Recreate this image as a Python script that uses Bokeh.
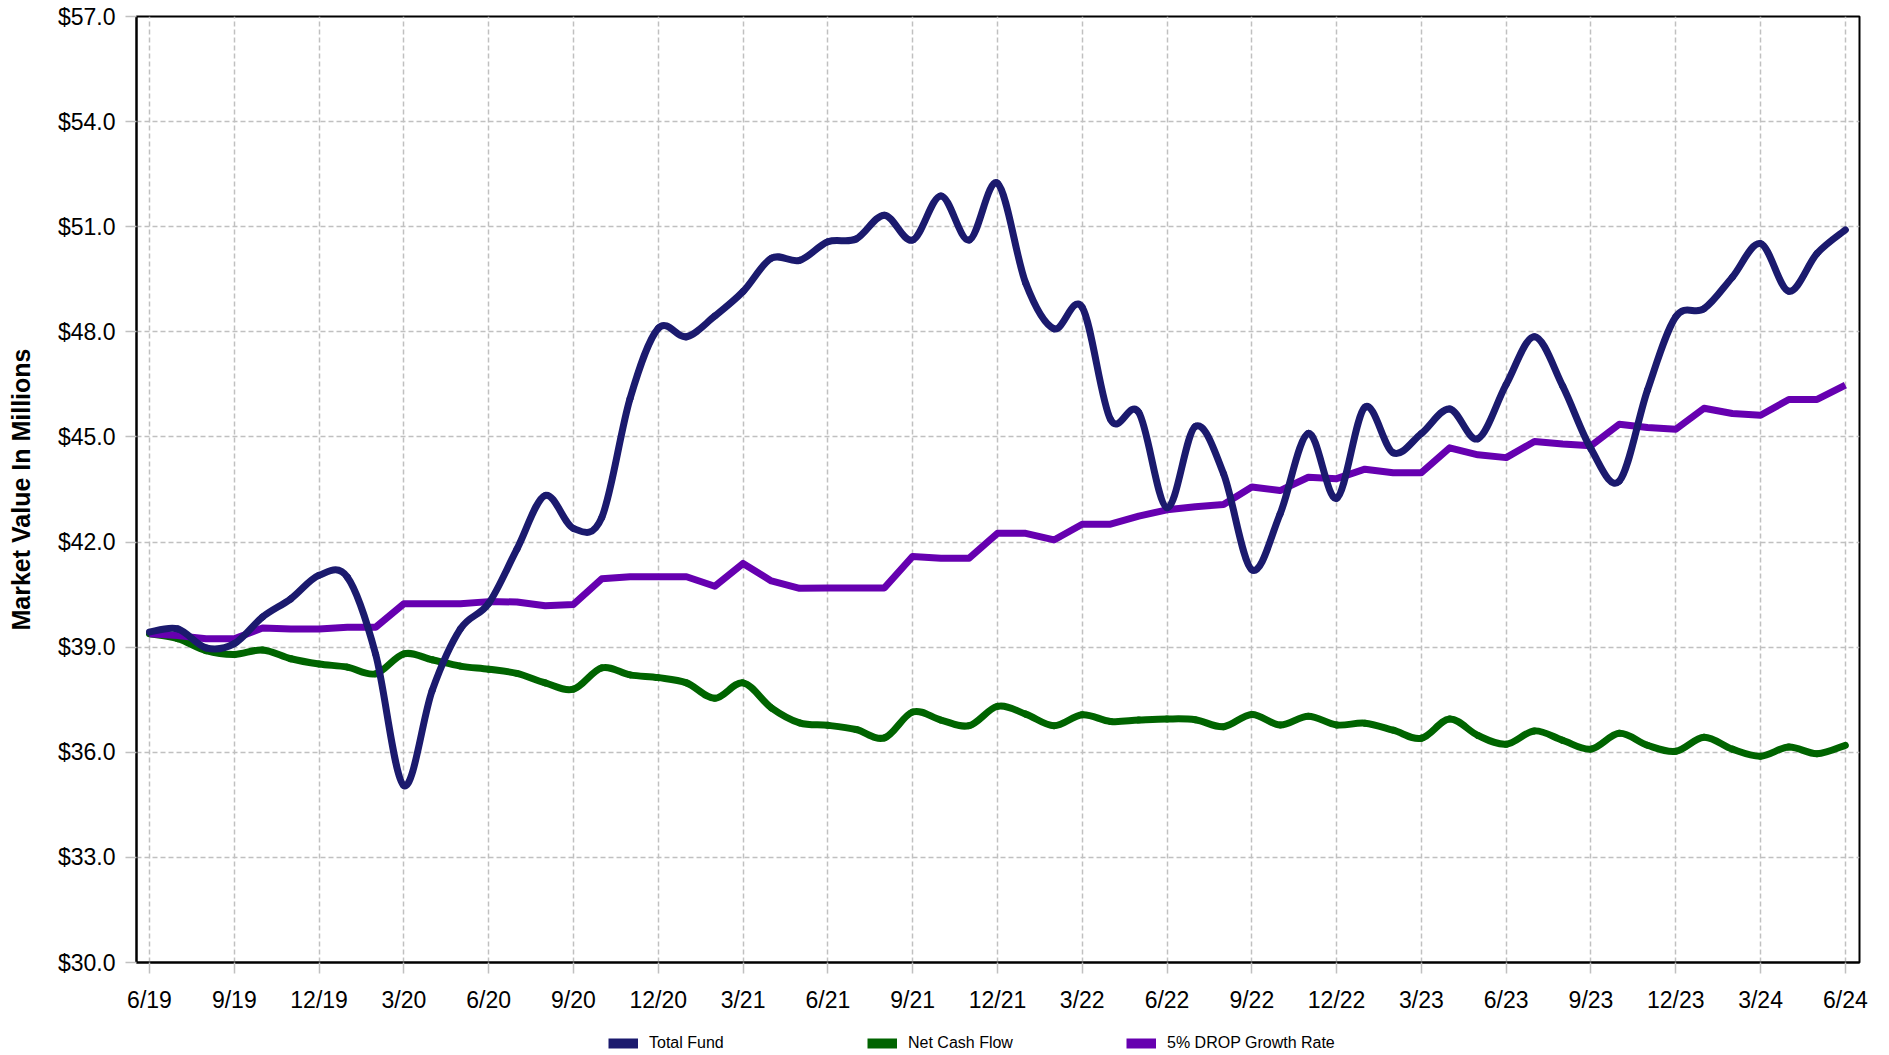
import numpy as np
from bokeh.plotting import figure
from bokeh.layouts import column
from bokeh.models import (Range1d, FixedTicker, NumeralTickFormatter, Legend,
                          LegendItem, ColumnDataSource)
from bokeh.embed import file_html
from bokeh.resources import INLINE

# ---------------- data ----------------
months = list(range(61))  # monthly index, 0 = 6/19 ... 60 = 6/24
tick_positions = list(range(0, 61, 3))
tick_labels = ["6/19", "9/19", "12/19", "3/20", "6/20", "9/20", "12/20", "3/21",
               "6/21", "9/21", "12/21", "3/22", "6/22", "9/22", "12/22", "3/23",
               "6/23", "9/23", "12/23", "3/24", "6/24"]
y_ticks = [30, 33, 36, 39, 42, 45, 48, 51, 54, 57]

total_fund = [39.43, 39.52, 38.98, 39.1, 39.86, 40.38, 41.05, 41.0, 38.8, 35.05, 37.76, 39.52, 40.25,
              41.8, 43.33, 42.39, 42.7, 46.09, 48.1, 47.86, 48.45, 49.15, 50.1, 50.04, 50.57,
              50.65, 51.33, 50.62, 51.88, 50.62, 52.24, 49.39, 48.09, 48.7, 45.5, 45.7, 42.98,
              45.3, 43.95, 41.21, 42.8, 45.1, 43.25, 45.85, 44.55, 45.1, 45.8, 44.95, 46.5,
              47.86, 46.45, 44.66, 43.74, 46.34, 48.43, 48.66, 49.56, 50.52, 49.16, 50.24, 50.91]

net_cash_flow = [39.38, 39.24, 38.9, 38.79, 38.92, 38.67, 38.52, 38.43, 38.24, 38.81, 38.64, 38.46, 38.37,
                 38.25, 37.98, 37.8, 38.41, 38.21, 38.13, 37.98, 37.54, 37.98, 37.27, 36.84, 36.77,
                 36.65, 36.41, 37.15, 36.92, 36.76, 37.31, 37.09, 36.76, 37.07, 36.88, 36.92, 36.95,
                 36.93, 36.73, 37.08, 36.78, 37.03, 36.78, 36.83, 36.63, 36.4, 36.95, 36.48, 36.23,
                 36.61, 36.34, 36.09, 36.54, 36.2, 36.03, 36.43, 36.09, 35.89, 36.15, 35.96, 36.2]

drop_growth = [39.38, 39.33, 39.24, 39.24, 39.55, 39.52, 39.52, 39.57, 39.57, 40.24, 40.24, 40.24, 40.3,
               40.29, 40.18, 40.22, 40.95, 41.01, 41.01, 41.01, 40.74, 41.39, 40.89, 40.68, 40.69,
               40.69, 40.69, 41.59, 41.54, 41.54, 42.25, 42.25, 42.06, 42.51, 42.51, 42.74, 42.92,
               43.01, 43.07, 43.57, 43.47, 43.85, 43.81, 44.08, 43.98, 43.98, 44.69, 44.49, 44.41,
               44.87, 44.8, 44.75, 45.36, 45.27, 45.22, 45.82, 45.67, 45.62, 46.07, 46.07, 46.48]

series_names = ["Total Fund", "Net Cash Flow", "5% DROP Growth Rate"]
colors = ["#1B1A6E", "#006400", "#6600B0"]

FONT = "Liberation Sans"


def smooth_segments(xs, ys):
    """Catmull-Rom control points so the data points are joined by a smooth curve."""
    x = np.asarray(xs, float)
    y = np.asarray(ys, float)
    xp = np.concatenate([[x[0]], x, [x[-1]]])
    yp = np.concatenate([[y[0]], y, [y[-1]]])
    n = len(x)
    P0x, P1x, P2x, P3x = xp[0:n - 1], xp[1:n], xp[2:n + 1], xp[3:n + 2]
    P0y, P1y, P2y, P3y = yp[0:n - 1], yp[1:n], yp[2:n + 1], yp[3:n + 2]
    return dict(x0=P1x, y0=P1y, x1=P2x, y1=P2y,
                cx0=P1x + (P2x - P0x) / 6, cy0=P1y + (P2y - P0y) / 6,
                cx1=P2x - (P3x - P1x) / 6, cy1=P2y - (P3y - P1y) / 6)


p = figure(width=1889, height=1018, output_backend="svg", toolbar_location=None,
           x_range=Range1d(-0.46, 60.5), y_range=Range1d(30, 57),
           min_border_left=136, min_border_right=30, min_border_top=16, min_border_bottom=56)

p.background_fill_color = "white"
p.border_fill_color = "white"
p.outline_line_color = "black"
p.outline_line_width = 2

# grid
p.xgrid.ticker = FixedTicker(ticks=tick_positions)
p.ygrid.ticker = FixedTicker(ticks=y_ticks)
for g in (p.xgrid, p.ygrid):
    g.grid_line_color = "#C0C0C0"
    g.grid_line_dash = "5 3"
    g.grid_line_width = 1.5

# axes
p.xaxis.ticker = FixedTicker(ticks=tick_positions)
p.xaxis.major_label_overrides = {t: lab for t, lab in zip(tick_positions, tick_labels)}
p.yaxis.ticker = FixedTicker(ticks=y_ticks)
p.yaxis.formatter = NumeralTickFormatter(format="$0.0")
for ax in (p.xaxis[0], p.yaxis[0]):
    ax.axis_line_color = "black"
    ax.axis_line_width = 2
    ax.major_tick_out = 11
    ax.major_tick_in = 0
    ax.major_tick_line_color = "#C0C0C0"
    ax.major_tick_line_width = 1.5
    ax.minor_tick_line_color = None
    ax.major_label_text_font = FONT
    ax.major_label_text_font_size = "23px"
    ax.major_label_text_color = "black"
p.xaxis.major_label_standoff = 13
p.yaxis.major_label_standoff = 10
p.yaxis.axis_label = "Market Value In Millions"
p.yaxis.axis_label_text_font = FONT
p.yaxis.axis_label_text_font_style = "bold"
p.yaxis.axis_label_text_font_size = "25px"
p.yaxis.axis_label_text_color = "black"
p.yaxis.axis_label_standoff = 20

# lines
ncf_src = ColumnDataSource(smooth_segments(months, net_cash_flow))
p.bezier(source=ncf_src, x0="x0", y0="y0", x1="x1", y1="y1", cx0="cx0", cy0="cy0",
         cx1="cx1", cy1="cy1", line_color=colors[1], line_width=7, line_cap="round")
p.line(months, drop_growth, line_color=colors[2], line_width=7, line_join="round")
tf_src = ColumnDataSource(smooth_segments(months, total_fund))
p.bezier(source=tf_src, x0="x0", y0="y0", x1="x1", y1="y1", cx0="cx0", cy0="cy0",
         cx1="cx1", cy1="cy1", line_color=colors[0], line_width=7, line_cap="round")

# ---------------- legend strip below the chart ----------------
leg_fig = figure(width=1889, height=37, output_backend="svg", toolbar_location=None,
                 x_range=Range1d(0, 1), y_range=Range1d(0, 1),
                 x_axis_type=None, y_axis_type=None,
                 min_border_left=0, min_border_right=0, min_border_top=0, min_border_bottom=0)
leg_fig.outline_line_color = None
leg_fig.background_fill_color = "white"
leg_fig.border_fill_color = "white"

items = []
for name, c in zip(series_names, colors):
    r = leg_fig.line([float("nan")], [float("nan")], line_color=c, line_width=10)
    items.append(LegendItem(label=name, renderers=[r]))
legend = Legend(items=items, orientation="horizontal", location=(472, 3),
                label_text_font=FONT, label_text_font_size="16px", label_text_color="black",
                glyph_width=30, glyph_height=12, label_width=218, label_standoff=11,
                spacing=0, padding=0, margin=0, border_line_color=None,
                background_fill_alpha=0)
leg_fig.add_layout(legend)

layout = column(p, leg_fig, spacing=0)
open("out.html", "w").write(file_html(layout, INLINE))
